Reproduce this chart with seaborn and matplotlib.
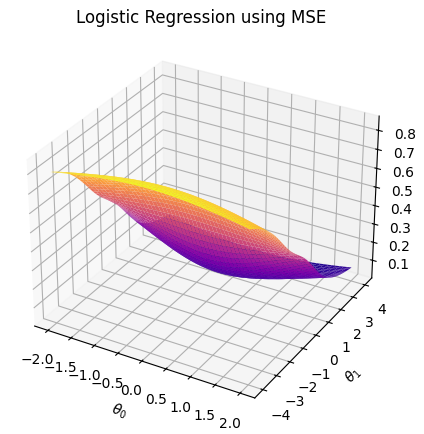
import numpy as np
import matplotlib
matplotlib.use("Agg")
import matplotlib.pyplot as plt
from matplotlib.ticker import MultipleLocator
import seaborn as sns

# training data used for the cost surface
x_train = np.array([-1.75, -1.25, -0.75, -0.25, 0.25, 0.75, 1.25, 1.75])
y_train = np.array([0, 0, 0, 0, 1, 1, 1, 1])

# parameter grid
theta0_vals = np.linspace(-2, 2, 50)
theta1_vals = np.linspace(-4, 4, 50)


def sigmoid(z):
    return 1 / (1 + np.exp(-z))


def mse_cost(t0, t1):
    pred = sigmoid(t0[..., None] + t1[..., None] * x_train)
    return np.mean((pred - y_train) ** 2, axis=-1)


T0, T1 = np.meshgrid(theta0_vals, theta1_vals)
C = mse_cost(T0, T1)

cmap = sns.color_palette("plasma", as_cmap=True)

fig = plt.figure(figsize=(4.24, 4.35), dpi=100)
ax = fig.add_axes([-47 / 424, 0.026, 496 / 424, 0.901], projection="3d")
ax.plot_surface(T0, T1, C, cmap=cmap)
ax.xaxis.set_major_locator(MultipleLocator(0.5))
ax.yaxis.set_major_locator(MultipleLocator(1))
ax.zaxis.set_major_locator(MultipleLocator(0.1))
ax.set_xlabel(r"$\theta_0$")
ax.set_ylabel(r"$\theta_1$")
ax.set_zlabel("C")
ax.set_title("Logistic Regression using MSE")

fig.savefig("out.png", dpi=100)
